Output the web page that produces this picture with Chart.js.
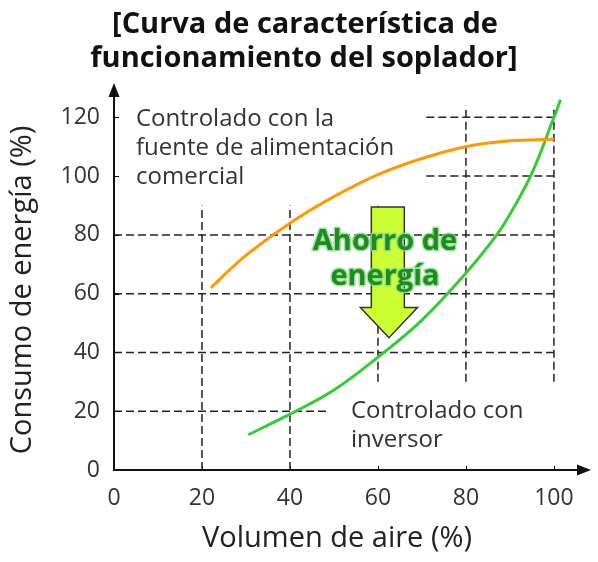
<!DOCTYPE html>
<html>
<head>
<meta charset="utf-8">
<script src="https://cdn.jsdelivr.net/npm/chart.js@4"></script>
<style>
  html, body { margin: 0; padding: 0; background: #fff; }
  #wrap { width: 598px; height: 562px; }
</style>
</head>
<body>
<div id="wrap"><canvas id="chart" width="598" height="562"></canvas></div>
<script>
// Valores
const xTicks = [0, 20, 40, 60, 80, 100];
const yTicks = [0, 20, 40, 60, 80, 100, 120];

const comercialX = [22, 30, 40, 50, 60, 70, 80, 90, 100];
const comercialY = [62, 73, 84, 93, 100.5, 106, 110, 112, 112.5];

const inversorX = [30.5, 40, 50, 60, 70, 80, 87, 90, 95, 100, 101.5];
const inversorY = [12, 19, 27.2, 38.4, 51, 67, 80, 87, 101, 120, 126];

// tramos de la cuadricula punteada [x1, y1, x2, y2] (unidades de datos)
const gridSegments = [
  [20, 0, 20, 90], [40, 0, 40, 90], [60, 30, 60, 90],
  [80, 30, 80, 124], [100, 30, 100, 124],
  [71, 120, 100, 120], [71, 100, 100, 100],
  [0, 80, 100, 80], [0, 60, 100, 60], [0, 40, 100, 40], [0, 20, 49, 20]
];

// flecha "Ahorro de energia" (unidades de datos)
const arrowShape = { left: 58.5, right: 66, top: 89.5, neck: 55.3, headL: 56, headR: 69, tipX: 62.5, tipY: 45 };

const FONT = '"Open Sans", "DejaVu Sans", sans-serif';

function toPts(xs, ys) {
  return xs.map((v, i) => ({ x: v, y: ys[i] }));
}

const decor = {
  id: 'decor',
  beforeDatasetsDraw(chart) {
    const { ctx, scales: { x, y } } = chart;
    ctx.save();
    // cuadricula punteada
    ctx.strokeStyle = '#222';
    ctx.lineWidth = 1.5;
    ctx.setLineDash([8, 4]);
    gridSegments.forEach(([x1, y1, x2, y2]) => {
      ctx.beginPath();
      ctx.moveTo(x.getPixelForValue(x1), y.getPixelForValue(y1));
      ctx.lineTo(x.getPixelForValue(x2), y.getPixelForValue(y2));
      ctx.stroke();
    });
    ctx.setLineDash([]);

    // flecha verde-amarilla
    const a = arrowShape;
    const px = v => x.getPixelForValue(v);
    const py = v => y.getPixelForValue(v);
    ctx.beginPath();
    ctx.moveTo(px(a.left), py(a.top));
    ctx.lineTo(px(a.right), py(a.top));
    ctx.lineTo(px(a.right), py(a.neck));
    ctx.lineTo(px(a.headR), py(a.neck));
    ctx.lineTo(px(a.tipX), py(a.tipY));
    ctx.lineTo(px(a.headL), py(a.neck));
    ctx.lineTo(px(a.left), py(a.neck));
    ctx.closePath();
    ctx.fillStyle = '#ccff33';
    ctx.fill();
    ctx.strokeStyle = '#333';
    ctx.lineWidth = 1.5;
    ctx.stroke();
    ctx.restore();
  },
  afterDatasetsDraw(chart) {
    const { ctx } = chart;
    ctx.save();
    // texto "Ahorro de energia"
    ctx.font = 'bold 29px ' + FONT;
    ctx.textAlign = 'center';
    ctx.textBaseline = 'middle';
    ctx.lineJoin = 'round';
    ctx.strokeStyle = 'rgba(140, 215, 140, 0.8)';
    ctx.lineWidth = 3;
    ctx.fillStyle = '#1b8f1b';
    [['Ahorro de', 242], ['energía', 277]].forEach(([t, yy]) => {
      ctx.strokeText(t, 385, yy);
      ctx.fillText(t, 385, yy);
    });

    // etiquetas de las curvas
    ctx.font = '24px ' + FONT;
    ctx.textAlign = 'left';
    ctx.textBaseline = 'alphabetic';
    ctx.fillStyle = '#333';
    ctx.fillText('Controlado con la', 136, 126);
    ctx.fillText('fuente de alimentación', 136, 155);
    ctx.fillText('comercial', 136, 184);
    ctx.fillText('Controlado con', 351, 418);
    ctx.fillText('inversor', 351, 447);
    ctx.restore();
  },
  afterDraw(chart) {
    const { ctx, chartArea: ca, scales: { x, y } } = chart;
    ctx.save();
    // ejes con flechas
    ctx.strokeStyle = '#111';
    ctx.fillStyle = '#111';
    ctx.lineWidth = 2;
    ctx.beginPath();
    ctx.moveTo(ca.left, ca.top + 8);
    ctx.lineTo(ca.left, ca.bottom);
    ctx.lineTo(ca.right - 10, ca.bottom);
    ctx.stroke();
    ctx.beginPath();
    ctx.moveTo(ca.left, ca.top - 2);
    ctx.lineTo(ca.left - 5.5, ca.top + 12);
    ctx.lineTo(ca.left + 5.5, ca.top + 12);
    ctx.closePath();
    ctx.fill();
    ctx.beginPath();
    ctx.moveTo(ca.right + 1, ca.bottom);
    ctx.lineTo(ca.right - 13, ca.bottom - 5.5);
    ctx.lineTo(ca.right - 13, ca.bottom + 5.5);
    ctx.closePath();
    ctx.fill();

    // marcas pequenas
    ctx.lineWidth = 1;
    yTicks.slice(1).forEach(v => {
      const yy = Math.round(y.getPixelForValue(v)) + 0.5;
      ctx.beginPath();
      ctx.moveTo(ca.left, yy);
      ctx.lineTo(ca.left + 5, yy);
      ctx.stroke();
    });
    xTicks.slice(1).forEach(v => {
      const xx = Math.round(x.getPixelForValue(v)) + 0.5;
      ctx.beginPath();
      ctx.moveTo(xx, ca.bottom);
      ctx.lineTo(xx, ca.bottom - 4);
      ctx.stroke();
    });

    // titulo
    ctx.fillStyle = '#111';
    ctx.font = 'bold 29px ' + FONT;
    ctx.textAlign = 'center';
    ctx.textBaseline = 'alphabetic';
    ctx.fillText('[Curva de característica de', 305, 33);
    ctx.fillText('funcionamiento del soplador]', 304, 67);

    // titulos de ejes
    ctx.fillStyle = '#222';
    ctx.font = '29px ' + FONT;
    ctx.fillText('Volumen de aire (%)', 337, 547);
    ctx.translate(31, 290);
    ctx.rotate(-Math.PI / 2);
    ctx.fillText('Consumo de energía (%)', 0, 0);
    ctx.restore();
  }
};

new Chart(document.getElementById('chart'), {
  type: 'scatter',
  data: {
    datasets: [
      {
        label: 'Controlado con la fuente de alimentación comercial',
        data: toPts(comercialX, comercialY),
        showLine: true,
        borderColor: '#ff9900',
        borderWidth: 3,
        pointRadius: 0,
        tension: 0.4
      },
      {
        label: 'Controlado con inversor',
        data: toPts(inversorX, inversorY),
        showLine: true,
        borderColor: '#33cc33',
        borderWidth: 3,
        pointRadius: 0,
        tension: 0.4
      }
    ]
  },
  options: {
    responsive: false,
    animation: false,
    layout: { padding: { top: 85, right: 8, bottom: 0, left: 0 } },
    plugins: {
      legend: { display: false },
      tooltip: { enabled: false },
      title: { display: false }
    },
    scales: {
      x: {
        type: 'linear',
        min: 0,
        max: 108.2,
        afterBuildTicks: s => { s.ticks = xTicks.map(v => ({ value: v })); },
        afterFit: s => { s.height = 92; },
        grid: { display: false, drawTicks: false },
        border: { display: false },
        ticks: { color: '#333', padding: 15, font: { family: FONT, size: 23 } }
      },
      y: {
        type: 'linear',
        min: 0,
        max: 131,
        afterBuildTicks: s => { s.ticks = yTicks.map(v => ({ value: v })); },
        afterFit: s => { s.width = 114; },
        grid: { display: false, drawTicks: false },
        border: { display: false },
        ticks: { color: '#333', padding: 14, font: { family: FONT, size: 23 } }
      }
    }
  },
  plugins: [decor]
});
</script>
</body>
</html>
